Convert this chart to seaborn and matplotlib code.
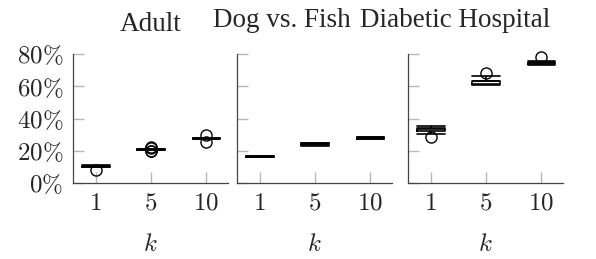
import numpy as np
import pandas as pd
import matplotlib
matplotlib.use("Agg")
import matplotlib.pyplot as plt
import seaborn as sns

# ---- data (accuracy in %, several runs per k) ----
titles = ["Adult", "Dog vs. Fish", "Diabetic Hospital"]
k_labels = ["1", "5", "10"]
y_ticks = [0, 20, 40, 60, 80]

adult_k1 = [8.0, 10.0, 10.2, 10.4, 10.5, 10.6, 10.8, 10.9, 11.0]
adult_k5 = [19.6, 19.9, 20.7, 20.8, 20.9, 21.0, 21.1, 22.0, 22.4]
adult_k10 = [25.7, 27.4, 27.5, 27.6, 27.7, 27.8, 27.9, 28.0, 29.6]

dog_k1 = [16.0, 16.05, 16.1, 16.2, 16.3, 16.4, 16.5, 16.55, 16.6]
dog_k5 = [23.2, 23.4, 23.5, 23.8, 24.0, 24.3, 24.6, 24.7, 24.9]
dog_k10 = [27.3, 27.4, 27.5, 27.7, 27.9, 28.1, 28.3, 28.4, 28.5]

hosp_k1 = [28.7, 30.4, 32.4, 33.0, 33.7, 33.9, 34.2, 34.8, 35.5]
hosp_k5 = [60.9, 61.0, 61.2, 62.5, 63.2, 63.4, 63.5, 66.5, 68.0]
hosp_k10 = [73.2, 73.4, 73.6, 74.0, 74.4, 74.8, 75.2, 75.4, 78.4]

panels = [
    [adult_k1, adult_k5, adult_k10],
    [dog_k1, dog_k5, dog_k10],
    [hosp_k1, hosp_k5, hosp_k10],
]

sns.set_theme(style="ticks")
plt.rcParams["font.family"] = ["Liberation Serif", "DejaVu Serif"]
plt.rcParams["mathtext.fontset"] = "cm"

W, H = 596, 259
fig = plt.figure(figsize=(W / 100, H / 100), dpi=100)
lefts = [73, 237, 408]
pw = 155
ax_bottom, ax_top = 183, 54
FS = 18
TFS = 19.5

# title placement (pixel x, anchor, baseline y from top)
title_pos = [(150.5, "center", 31), (213, "left", 27), (550, "right", 27)]

for i, (title, groups) in enumerate(zip(titles, panels)):
    ax = fig.add_axes([lefts[i] / W, (H - ax_bottom) / H, pw / W, (ax_bottom - ax_top) / H])
    df = pd.DataFrame({
        "k": np.concatenate([[lab] * len(g) for lab, g in zip(k_labels, groups)]),
        "v": np.concatenate(groups),
    })
    sns.boxplot(
        data=df, x="k", y="v", order=k_labels, ax=ax,
        width=0.5, fill=False, color="black", linewidth=1.2,
        fliersize=8, whis=1.5,
        flierprops=dict(marker="o", markerfacecolor="none",
                        markeredgecolor="black", markeredgewidth=1.0),
        capwidths=0.5,
    )
    for ln in ax.lines:
        ln.set_clip_on(False)
    ax.set_xlim(-0.41, 2.39)
    ax.set_ylim(0, 80)
    ax.set_yticks(y_ticks)
    if i == 0:
        ax.set_yticklabels([rf"${t}\%$" for t in y_ticks], fontsize=FS)
    else:
        ax.set_yticklabels([])
    ax.set_xticks(range(len(k_labels)))
    ax.set_xticklabels([rf"${t}$" for t in k_labels], fontsize=FS)
    ax.tick_params(direction="in", length=8, width=1.0, color="#b8b8b8", pad=7)
    ax.set_xlabel(r"$k$", fontsize=FS, labelpad=14)
    ax.set_ylabel("")
    for s in ["top", "right"]:
        ax.spines[s].set_visible(False)
    for s in ["left", "bottom"]:
        ax.spines[s].set_color("#444444")
        ax.spines[s].set_linewidth(0.9)
    tx, ha, ty = title_pos[i]
    fig.text(tx / W, 1 - ty / H, title, fontsize=TFS, ha=ha, va="baseline")

fig.savefig("out.png", dpi=100)
